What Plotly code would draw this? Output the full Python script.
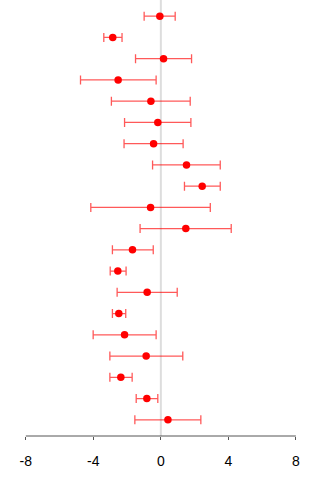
import plotly.graph_objects as go

rows = list(range(20, 0, -1))
est = [-0.06, -2.85, 0.16, -2.53, -0.59, -0.18, -0.43, 1.52, 2.45, -0.61,
       1.48, -1.68, -2.55, -0.81, -2.49, -2.15, -0.87, -2.37, -0.83, 0.42]
lower = [-0.99, -3.38, -1.50, -4.76, -2.93, -2.15, -2.18, -0.49, 1.40, -4.15,
         -1.23, -2.87, -3.00, -2.59, -2.87, -4.01, -3.02, -3.02, -1.46, -1.54]
upper = [0.85, -2.30, 1.82, -0.28, 1.74, 1.78, 1.32, 3.52, 3.52, 2.93,
         4.17, -0.45, -2.06, 0.97, -2.08, -0.28, 1.30, -1.70, -0.18, 2.37]
tick_vals = [-8, -4, 0, 4, 8]
tick_text = ["-8", "-4", "0", "4", "8"]

err_plus = [u - e for u, e in zip(upper, est)]
err_minus = [e - l for e, l in zip(est, lower)]

fig = go.Figure()
fig.add_trace(go.Scatter(
    x=est, y=rows, mode="markers",
    marker=dict(color="#ff0000", size=7.5),
    error_x=dict(type="data", symmetric=False, array=err_plus, arrayminus=err_minus,
                 color="rgba(255,0,0,0.65)", thickness=1.3, width=4.5),
    showlegend=False, hoverinfo="skip",
))

fig.add_shape(type="line", x0=0, x1=0, y0=0, y1=1, xref="x", yref="paper",
              line=dict(color="#dddddd", width=2), layer="below")
fig.add_shape(type="line", x0=tick_vals[0], x1=tick_vals[-1], y0=0, y1=0, xref="x", yref="paper",
              line=dict(color="#555555", width=1))

fig.update_layout(
    width=320, height=480,
    margin=dict(l=0, r=0, t=0, b=44),
    plot_bgcolor="white", paper_bgcolor="white",
    font=dict(family="Liberation Sans, Arial, sans-serif", size=14, color="black"),
    xaxis=dict(range=[-9.53, 9.43], tickvals=tick_vals, ticktext=tick_text,
               showgrid=False, zeroline=False, showline=False,
               ticks="outside", ticklen=3, tickcolor="#555555", tickwidth=1,
               ticklabelstandoff=9, fixedrange=True),
    yaxis=dict(range=[0.24, 20.76], showgrid=False, zeroline=False, showline=False,
               showticklabels=False, ticks="", fixedrange=True),
)

fig.write_html("out.html", config={"displayModeBar": False})
